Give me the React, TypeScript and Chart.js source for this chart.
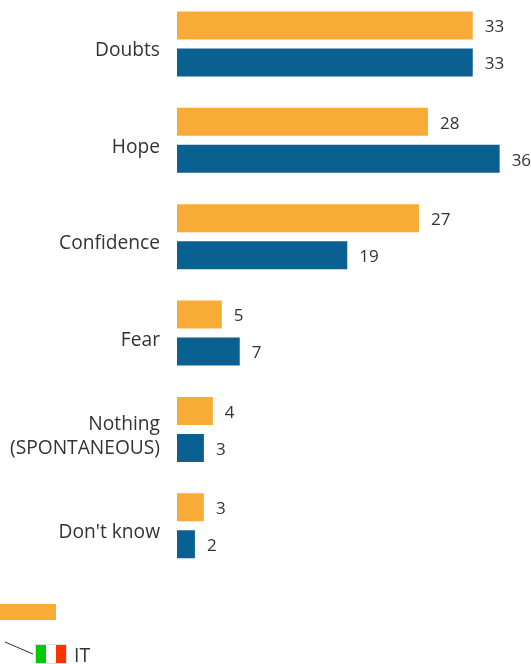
import React, { useEffect, useRef } from "react";
import { Chart, registerables } from "chart.js";

Chart.register(...registerables);

const categories: (string | string[])[] = ["Doubts", "Hope", "Confidence", "Fear", ["Nothing", "(SPONTANEOUS)"], "Don't know"];
const seriesA = [33, 28, 27, 5, 4, 3];
const seriesB = [33, 36, 19, 7, 3, 2];
const ORANGE = "#F8AB36";
const BLUE = "#0A6090";
const TEXT = "#333333";
const FONT = "'Open Sans', sans-serif";

const valueLabels = {
  id: "valueLabels",
  afterDatasetsDraw(chart: any) {
    const { ctx } = chart;
    ctx.save();
    ctx.fillStyle = TEXT;
    ctx.font = `17px ${FONT}`;
    ctx.textAlign = "left";
    ctx.textBaseline = "middle";
    chart.data.datasets.forEach((ds: any, i: number) => {
      chart.getDatasetMeta(i).data.forEach((bar: any, j: number) => {
        ctx.fillText(String(ds.data[j]), bar.x + 12, bar.y + 2);
      });
    });
    ctx.restore();
  },
};

export default function App() {
  const ref = useRef<HTMLCanvasElement>(null);
  useEffect(() => {
    const chart = new Chart(ref.current!, {
      type: "bar",
      data: {
        labels: categories as any,
        datasets: [
          { label: "A", data: seriesA, backgroundColor: ORANGE, borderWidth: 0 },
          { label: "IT", data: seriesB, backgroundColor: BLUE, borderWidth: 0 },
        ],
      },
      options: {
        indexAxis: "y",
        responsive: false,
        animation: false,
        devicePixelRatio: 1,
        categoryPercentage: 0.768,
        barPercentage: 0.757,
        layout: { autoPadding: false, padding: { left: 0, right: 0, top: 5.8, bottom: 100 } },
        plugins: { legend: { display: false }, tooltip: { enabled: false } },
        scales: {
          x: { display: false, min: 0, max: 39.5 },
          y: {
            afterFit: (s: any) => { s.width = 177; s.paddingTop = 0; s.paddingBottom = 0; },
            grid: { display: false, drawTicks: false },
            border: { display: false },
            ticks: {
              color: TEXT,
              padding: 17,
              labelOffset: 7,
              autoSkip: false,
              font: { family: FONT, size: 19.2, lineHeight: 1.25 },
            },
          },
        },
      },
      plugins: [valueLabels],
    } as any);
    return () => chart.destroy();
  }, []);

  return (
    <div style={{ position: "absolute", left: 0, top: 0, width: 531, height: 664, overflow: "hidden", background: "#fff" }}>
      <canvas ref={ref} width={531} height={684} style={{ position: "absolute", left: 0, top: -10, display: "block" }} />
      <div style={{ position: "absolute", left: 0, top: 603.5, width: 56, height: 16.5, background: ORANGE }} />
      <svg width={40} height={30} style={{ position: "absolute", left: 0, top: 635 }}>
        <line x1={5} y1={7} x2={33} y2={19} stroke="#333" strokeWidth={1} />
      </svg>
      <div style={{ position: "absolute", left: 35, top: 644, width: 32, height: 20, display: "flex", boxSizing: "border-box", border: "1px solid #ddd" }}>
        <div style={{ flex: 1, background: "#00CC00" }} />
        <div style={{ flex: 1, background: "#fff" }} />
        <div style={{ flex: 1, background: "#FF3300" }} />
      </div>
      <div style={{ position: "absolute", left: 74, top: 642, fontFamily: FONT, fontSize: 19.5, lineHeight: "26px", color: TEXT }}>IT</div>
    </div>
  );
}
